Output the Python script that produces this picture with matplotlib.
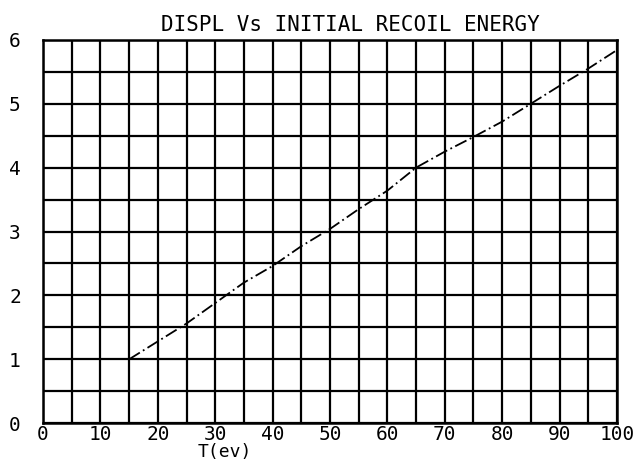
import numpy as np
import matplotlib
matplotlib.use("Agg")
import matplotlib.pyplot as plt

# values
energy = [15, 20, 25, 30, 35, 40, 45, 50, 55, 60, 65, 70, 75, 80, 85, 90, 95, 100]
displ = [1.0, 1.28, 1.56, 1.88, 2.2, 2.46, 2.77, 3.04, 3.35, 3.64,
         4.0, 4.25, 4.48, 4.72, 5.0, 5.28, 5.55, 5.84]
xticks = [0, 10, 20, 30, 40, 50, 60, 70, 80, 90, 100]
yticks = [0, 1, 2, 3, 4, 5, 6]

plt.rcParams['font.family'] = ['DejaVu Sans Mono']

fig = plt.figure(figsize=(6.42, 4.63), dpi=100)
ax = fig.add_axes([0.067, 0.086, 0.894, 0.828])

ax.plot(energy, displ, color='black', lw=1.3, linestyle=(0, (7, 2, 1, 2)))

ax.set_xlim(0, 100)
ax.set_ylim(0, 6)
ax.set_xticks(xticks)
ax.set_xticks(np.arange(5, 100, 10), minor=True)
ax.set_yticks(yticks)
ax.set_yticks(np.arange(0.5, 6, 1), minor=True)
ax.grid(True, which='both', color='black', lw=1.6)
ax.tick_params(which='both', length=0)
ax.tick_params(axis='x', labelsize=14, pad=1)
ax.tick_params(axis='y', labelsize=14, pad=16)
for s in ax.spines.values():
    s.set_linewidth(1.8)

ax.set_title('DISPL Vs INITIAL RECOIL ENERGY', fontsize=15, pad=6, x=0.535)
ax.set_xlabel('T(ev)', fontsize=13)
ax.xaxis.set_label_coords(0.317, -0.052)

fig.savefig('out.png', dpi=100)
